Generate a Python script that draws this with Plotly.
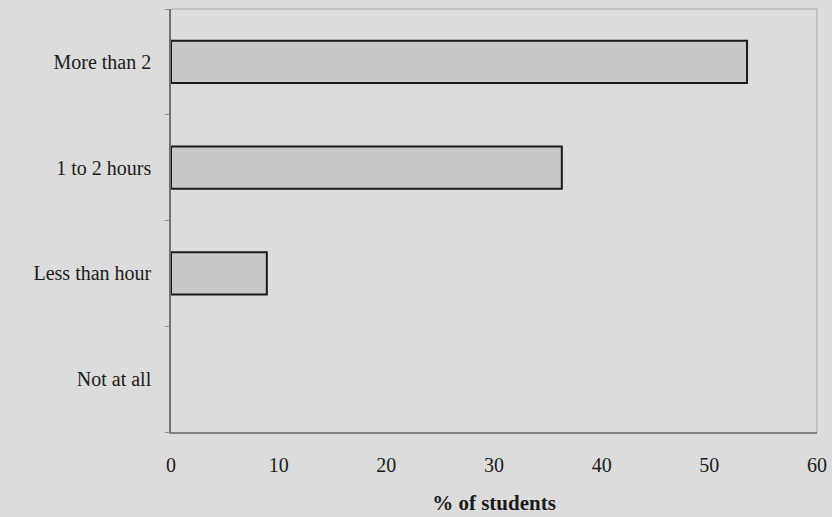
import plotly.graph_objects as go

categories = ["Not at all", "Less than hour", "1 to 2 hours", "More than 2"]
percent_students = [0, 8.9, 36.3, 53.5]
x_ticks = [0, 10, 20, 30, 40, 50, 60]

BG = "#dcdcdc"
FONT = "Liberation Serif"
TXT = "#1a1a1a"

fig = go.Figure(
    go.Bar(
        y=categories,
        x=percent_students,
        orientation="h",
        width=0.4,
        marker=dict(
            color="#c8c8c8",
            line=dict(color="#1a1a1a", width=[0 if v == 0 else 2 for v in percent_students]),
        ),
    )
)

fig.update_layout(
    width=832,
    height=517,
    paper_bgcolor=BG,
    plot_bgcolor=BG,
    margin=dict(l=171, r=15, t=9, b=85),
    showlegend=False,
    font=dict(family=FONT, size=20, color=TXT),
    xaxis=dict(
        range=[0, 60],
        tickvals=x_ticks,
        ticktext=[str(v) for v in x_ticks],
        showgrid=False,
        zeroline=False,
        showline=True,
        linecolor="#808080",
        linewidth=1.5,
        ticks="",
        automargin=False,
        ticklabelstandoff=14,
        tickfont=dict(family=FONT, size=20, color=TXT),
        title=dict(
            text="<b>% of students</b>",
            font=dict(family=FONT, size=21, color=TXT),
            standoff=21,
        ),
    ),
    yaxis=dict(
        categoryorder="array",
        categoryarray=categories,
        showgrid=False,
        zeroline=False,
        showline=True,
        linecolor="#707070",
        linewidth=1.5,
        ticks="outside",
        tickson="boundaries",
        ticklen=4,
        tickcolor="#909090",
        automargin=False,
        ticklabelstandoff=14,
        tickfont=dict(family=FONT, size=20, color=TXT),
    ),
)

# lighter top and right frame lines
fig.add_shape(type="line", xref="paper", yref="paper", x0=0, x1=1, y0=1, y1=1,
              line=dict(color="#a8a8a8", width=1.2))
fig.add_shape(type="line", xref="paper", yref="paper", x0=1, x1=1, y0=0, y1=1,
              line=dict(color="#b0b0b0", width=1.2))

fig.write_html(
    "out.html",
    config={"displayModeBar": False},
    post_script="document.body.style.margin='0';document.body.style.background='#dcdcdc';",
)
